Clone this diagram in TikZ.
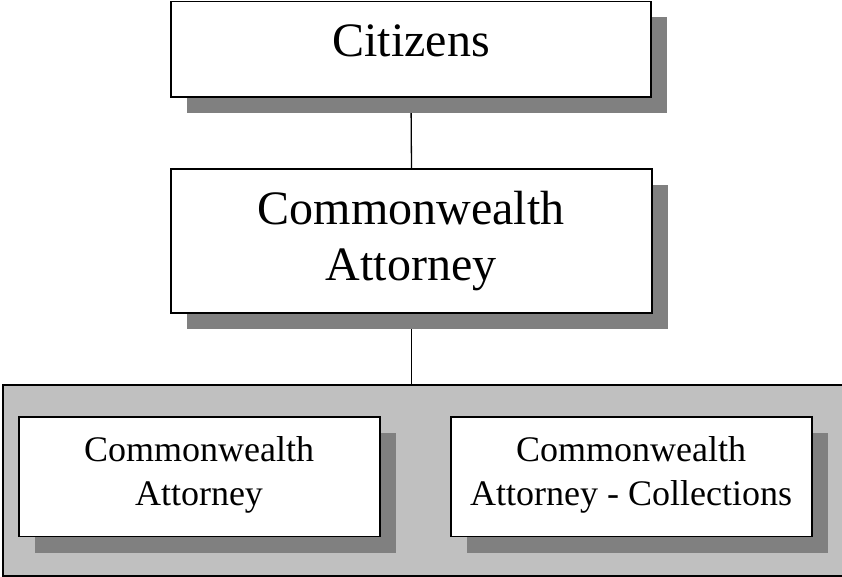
\documentclass[tikz,border=0pt]{standalone}
\usepackage{fontspec}
\setmainfont{Liberation Serif}
\usetikzlibrary{shadows,backgrounds}
\definecolor{shadowgray}{RGB}{128,128,128}
\definecolor{panelgray}{RGB}{192,192,192}
\begin{document}
\begin{tikzpicture}[x=1pt,y=-1pt,
  box/.style={rectangle, draw=black, line width=1.8pt, fill=white, inner sep=0pt,
    drop shadow={shadow xshift=16pt, shadow yshift=-16pt, fill=shadowgray, opacity=1}},
  panel/.style={rectangle, draw=black, line width=1.8pt, fill=panelgray, inner sep=0pt},
  bigtext/.style={font=\fontsize{48}{55}\selectfont, inner sep=0pt, anchor=base},
  smalltext/.style={font=\fontsize{36}{43}\selectfont, inner sep=0pt, anchor=base},
  link/.style={draw=black, line width=1.3pt}]
\useasboundingbox (0,0) rectangle (842,577);
% grouping panel
\node[panel, minimum width=843pt, minimum height=191pt] (grp) at (424.5,480.5) {};
% boxes
\node[box, minimum width=480pt, minimum height=95.5pt] (cit) at (411,49.25) {};
\node[box, minimum width=481pt, minimum height=144pt] (mid) at (411.5,241) {};
\node[box, minimum width=361pt, minimum height=119.5pt] (left) at (199.5,476.75) {};
\node[box, minimum width=361pt, minimum height=119.5pt] (right) at (631.5,476.75) {};
% texts
\node[bigtext] (cit-t) at (411,57) {Citizens};
\node[bigtext] (mid-t1) at (411,225) {Commonwealth};
\node[bigtext] (mid-t2) at (411,280) {Attorney};
\node[smalltext] (left-t1) at (199,461.7) {Commonwealth};
\node[smalltext] (left-t2) at (199,505.3) {Attorney};
\node[smalltext] (right-t1) at (631,461.7) {Commonwealth};
\node[smalltext] (right-t2) at (631,505.3) {Attorney - Collections};
% connectors
\begin{scope}[on background layer]
\draw[link] (cit.south) -- (mid.north);
\draw[link] (mid.south) -- (mid.south |- grp.north);
\end{scope}
\end{tikzpicture}
\end{document}
